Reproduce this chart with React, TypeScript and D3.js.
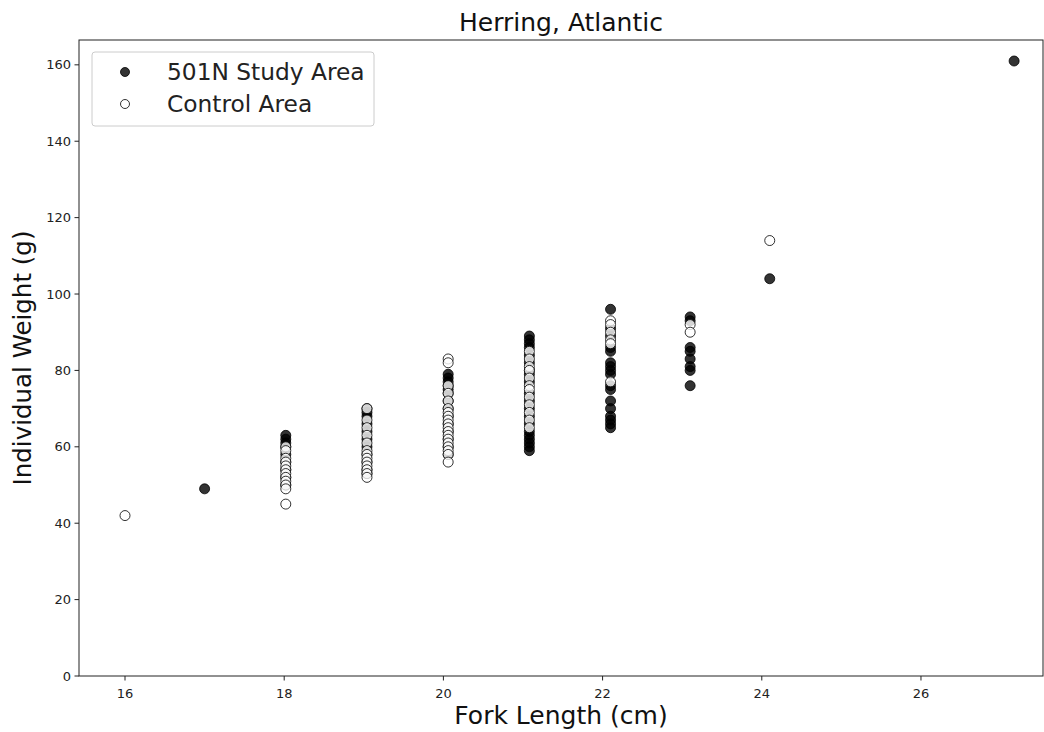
import React from 'react';
import * as d3 from 'd3';

// fork length (cm) and weight (g), one pair of arrays per area
const studyLength = [17,
  18.02, 18.02, 18.02, 18.02, 18.02, 18.02, 18.02, 18.02, 18.02,
  19.04, 19.04, 19.04, 19.04, 19.04, 19.04, 19.04, 19.04, 19.04, 19.04, 19.04,
  20.06, 20.06, 20.06, 20.06, 20.06, 20.06, 20.06, 20.06, 20.06, 20.06, 20.06, 20.06, 20.06, 20.06,
  21.08, 21.08, 21.08, 21.08, 21.08, 21.08, 21.08, 21.08, 21.08, 21.08, 21.08, 21.08, 21.08, 21.08, 21.08, 21.08, 21.08, 21.08, 21.08, 21.08,
  22.1, 22.1, 22.1, 22.1, 22.1, 22.1, 22.1, 22.1, 22.1, 22.1, 22.1, 22.1, 22.1, 22.1, 22.1, 22.1, 22.1,
  23.1, 23.1, 23.1, 23.1, 23.1, 23.1, 23.1, 23.1,
  24.1, 27.17];
const studyWeight = [49,
  63, 62, 61, 60, 58, 56, 54, 52, 50,
  70, 69, 68, 66, 64, 62, 60, 58, 56, 54, 53,
  79, 78, 77, 76, 75, 74, 72, 70, 68, 66, 64, 62, 60, 58,
  89, 88, 87, 86, 84, 82, 80, 79, 77, 74, 72, 70, 68, 66, 64, 63, 62, 61, 60, 59,
  96, 91, 89, 86, 85, 82, 81, 80, 79, 76, 75, 72, 70, 68, 67, 66, 65,
  94, 93, 86, 85, 83, 81, 80, 76,
  104, 161];

const controlLength = [16,
  18.02, 18.02, 18.02, 18.02, 18.02, 18.02, 18.02, 18.02, 18.02, 18.02, 18.02, 18.02,
  19.04, 19.04, 19.04, 19.04, 19.04, 19.04, 19.04, 19.04, 19.04, 19.04, 19.04, 19.04, 19.04,
  20.06, 20.06, 20.06, 20.06, 20.06, 20.06, 20.06, 20.06, 20.06, 20.06, 20.06, 20.06, 20.06, 20.06, 20.06, 20.06, 20.06, 20.06, 20.06,
  21.08, 21.08, 21.08, 21.08, 21.08, 21.08, 21.08, 21.08, 21.08, 21.08, 21.08, 21.08,
  22.1, 22.1, 22.1, 22.1, 22.1, 22.1,
  23.1, 23.1,
  24.1];
const controlWeight = [42,
  60, 59, 57, 56, 55, 54, 53, 52, 51, 50, 49, 45,
  70, 67, 65, 63, 61, 59, 58, 57, 56, 55, 54, 53, 52,
  83, 82, 76, 74, 72, 70, 69, 68, 67, 66, 65, 64, 63, 62, 61, 60, 59, 58, 56,
  85, 83, 81, 80, 78, 76, 75, 73, 71, 69, 67, 65,
  93, 92, 90, 88, 87, 77,
  92, 90,
  114];

const xTicks = [16, 18, 20, 22, 24, 26];
const yTicks = [0, 20, 40, 60, 80, 100, 120, 140, 160];

const W = 1044, H = 732;
const left = 79, right = 1043, top = 40, bottom = 676;
const font = 'DejaVu Sans, sans-serif';

export default function App() {
  const x = d3.scaleLinear().domain([15.422, 27.533]).range([left, right]);
  const y = d3.scaleLinear().domain([0, 166.5]).range([bottom, top]);

  const study = studyLength.map((l, i) => [l, studyWeight[i]]);
  const control = controlLength.map((l, i) => [l, controlWeight[i]]);

  return (
    <svg width={W} height={H} style={{ position: 'absolute', left: 0, top: 0 }}>
      <rect width={W} height={H} fill="white" />
      <text x={(left + right) / 2} y={31} textAnchor="middle" fontFamily={font} fontSize={25} fill="#111">Herring, Atlantic</text>

      {study.map((d, i) => (
        <circle key={'s' + i} cx={x(d[0])} cy={y(d[1])} r={5}
          fill="black" fillOpacity={0.8} stroke="black" strokeOpacity={0.8} strokeWidth={1} />
      ))}
      {control.map((d, i) => (
        <circle key={'c' + i} cx={x(d[0])} cy={y(d[1])} r={5}
          fill="white" fillOpacity={0.8} stroke="black" strokeOpacity={0.8} strokeWidth={1} />
      ))}

      <rect x={left} y={top} width={right - left} height={bottom - top} fill="none" stroke="#222" strokeWidth={1} />

      {xTicks.map(t => (
        <g key={'x' + t} transform={`translate(${x(t)},${bottom})`}>
          <line y2={4.5} stroke="#222" />
          <text y={21.5} textAnchor="middle" fontFamily={font} fontSize={13} fill="#222">{t}</text>
        </g>
      ))}
      {yTicks.map(t => (
        <g key={'y' + t} transform={`translate(${left},${y(t)})`}>
          <line x2={-4.5} stroke="#222" />
          <text x={-8} dy="0.35em" textAnchor="end" fontFamily={font} fontSize={13} fill="#222">{t}</text>
        </g>
      ))}

      <text x={(left + right) / 2} y={724} textAnchor="middle" fontFamily={font} fontSize={25} fill="#111">Fork Length (cm)</text>
      <text transform={`translate(31,${(top + bottom) / 2}) rotate(-90)`} textAnchor="middle" fontFamily={font} fontSize={24.5} fill="#111">Individual Weight (g)</text>

      <g>
        <rect x={92} y={52} width={282} height={74} rx={3} fill="white" fillOpacity={0.8} stroke="#ccc" />
        <circle cx={125} cy={72} r={4.5} fill="black" fillOpacity={0.8} stroke="black" strokeOpacity={0.8} />
        <text x={167} y={72} dy="0.35em" fontFamily={font} fontSize={23.3} fill="#222">501N Study Area</text>
        <circle cx={125} cy={104} r={4.5} fill="white" fillOpacity={0.8} stroke="black" strokeOpacity={0.8} />
        <text x={167} y={104} dy="0.35em" fontFamily={font} fontSize={23.3} fill="#222">Control Area</text>
      </g>
    </svg>
  );
}
